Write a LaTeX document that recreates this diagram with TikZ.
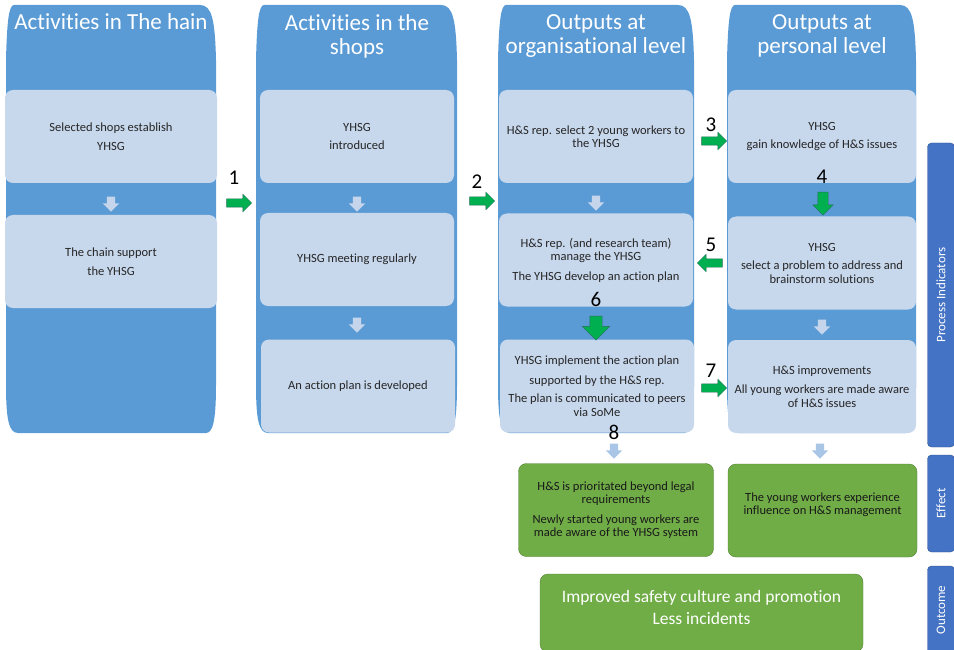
\documentclass[tikz,border=0pt]{standalone}
\usepackage{fontspec}
\setmainfont{Carlito}[Ligatures=NoCommon]
\usepackage{xcolor}
\usetikzlibrary{shapes.arrows}
\definecolor{laneblue}{RGB}{91,155,213}
\definecolor{cellblue}{RGB}{199,215,236}
\definecolor{stepblue}{RGB}{196,213,236}
\definecolor{dropblue}{RGB}{170,198,230}
\definecolor{arrowgreen}{RGB}{0,176,80}
\definecolor{arrowedge}{RGB}{38,110,90}
\definecolor{effgreen}{RGB}{112,173,71}
\definecolor{effedge}{RGB}{80,126,50}
\definecolor{sideblue}{RGB}{68,114,196}
\definecolor{sideedge}{RGB}{47,82,143}
\tikzset{
    lane-title/.style = {text=white, align=center, font=\fontsize{23}{24}\selectfont},
    cell-box/.style = {fill=cellblue, rounded corners=8pt, minimum height=93pt, align=center, text=black!85, font=\fontsize{12.5}{13.5}\selectfont},
    effect-box/.style = {fill=effgreen, draw=effedge, rounded corners=8pt, minimum height=93pt, align=center, text=black!90, font=\fontsize{12.5}{13.5}\selectfont},
    side-bar/.style = {fill=sideblue, draw=sideedge, rounded corners=4pt, minimum height=27pt, text=white, rotate=90, font=\fontsize{13}{15}\selectfont},
    step-down/.style = {single arrow, shape border rotate=270, fill=#1, draw=none, minimum height=15pt, inner sep=4pt, single arrow head extend=4pt, single arrow head indent=0pt},
    go-arrow/.style = {single arrow, shape border rotate=#1, fill=arrowgreen, draw=arrowedge, minimum height=25pt, inner sep=4pt, single arrow head extend=4.5pt, single arrow head indent=0pt},
    step-num/.style = {font=\fontsize{21}{21}\selectfont},
}

\begin{document}
\begin{tikzpicture}[x=1pt,y=-1pt]
\useasboundingbox (0,0) rectangle (954,650);

% the four lanes
\foreach \xa/\xb in {8/214, 258/455, 500/692, 729/914} {
    \fill[laneblue] ({\xa+6},5) -- ({\xb-14},5) .. controls ({\xb-2},5) and ({\xb+1},20) .. ({\xb+2},60)
        -- ({\xb+2},385) .. controls ({\xb+2},420) and ({\xb-1},433) .. ({\xb-8},433)
        -- ({\xa+10},433) .. controls ({\xa+1},433) and ({\xa-2},420) .. ({\xa-2},385)
        -- ({\xa-2},60) .. controls ({\xa-1},20) and ({\xa+1},5) .. ({\xa+6},5) -- cycle;
}

\node[lane-title] (chainT) at (111,22) {Activities in The hain};
\node[lane-title] (shopT) at (357,36) {Activities in the\\shops};
\node[lane-title] (orgT) at (596,36) {Outputs at\\organisational level};
\node[lane-title] (persT) at (822,36) {Outputs at\\personal level};

% boxes inside the lanes
\node[cell-box, minimum width=212pt] (chainA) at (111,136.5) {Selected shops establish\\[5pt]YHSG};
\node[cell-box, minimum width=212pt] (chainB) at (111,261.5) {The chain support\\[5pt]the YHSG};
\node[cell-box, minimum width=194pt] (shopA) at (357,136.5) {YHSG\\[5pt]introduced};
\node[cell-box, minimum width=194pt] (shopB) at (357,259.5) {YHSG meeting regularly};
\node[cell-box, minimum width=194pt] (shopC) at (358,386) {An action plan is developed};
\node[cell-box, minimum width=194pt] (orgA) at (596,136.5) {H\&S rep. select 2 young workers to\\the YHSG};
\node[cell-box, minimum width=194pt] (orgB) at (596,260) {H\&S rep. (and research team)\\manage the YHSG\\[6pt]The YHSG develop an action plan};
\node[cell-box, minimum width=194pt] (orgC) at (597,386) {YHSG implement the action plan\\[6pt]supported by the H\&S rep.\\[5pt]The plan is communicated to peers\\via SoMe};
\node[cell-box, minimum width=188pt] (persA) at (822,136.5) {YHSG\\[5pt]gain knowledge of H\&S issues};
\node[cell-box, minimum width=188pt] (persB) at (822,263) {YHSG\\[5pt]select a problem to address and\\brainstorm solutions};
\node[cell-box, minimum width=188pt] (persC) at (822,386.5) {H\&S improvements\\[6pt]All young workers are made aware\\of H\&S issues};

% pale steps
\node[step-down=stepblue] (dA) at (111,202) {};
\node[step-down=stepblue] (dB) at (357,202) {};
\node[step-down=stepblue] (dC) at (357,323) {};
\node[step-down=stepblue] (dD) at (596,201) {};
\node[step-down=stepblue] (dE) at (822,325) {};
\node[step-down=dropblue] (dF) at (614,449) {};
\node[step-down=dropblue] (dG) at (820,449) {};

% numbered green arrows
\node[go-arrow=0] (g1) at (237,203) {};
\node[step-num] (n1) at (234,178) {1};
\node[go-arrow=0] (g2) at (480,201) {};
\node[step-num] (n2) at (477,182) {2};
\node[go-arrow=0] (g3) at (712,141) {};
\node[step-num] (n3) at (711,125) {3};
\node[go-arrow=270, minimum height=23pt, inner sep=5pt, single arrow head extend=5pt] (g4) at (823,201) {};
\node[step-num] (n4) at (822,177) {4};
\node[go-arrow=180] (g5) at (712,263) {};
\node[step-num] (n5) at (711,245) {5};
\node[go-arrow=270, minimum height=24pt, inner sep=6pt, single arrow head extend=7.5pt] (g6) at (596,325) {};
\node[step-num] (n6) at (596,299) {6};
\node[go-arrow=0] (g7) at (712,388) {};
\node[step-num] (n7) at (711,371) {7};
\node[step-num] (n8) at (614,432) {8};

% effects and outcome
\node[effect-box, minimum width=195pt] (effOrg) at (616,510) {H\&S is prioritated beyond legal\\requirements\\[6pt]Newly started young workers are\\made aware of the YHSG system};
\node[effect-box, minimum width=189pt, text depth=14pt] (effPers) at (822.5,510.5) {The young workers experience\\influence on H\&S management};
\node[effect-box, minimum width=323pt, minimum height=78pt, text=white, font=\fontsize{17.5}{22}\selectfont, text depth=12pt] (outcome) at (701.5,613) {Improved safety culture and promotion\\Less incidents};

% side bars
\node[side-bar, minimum width=304pt] (procBar) at (941,295) {Process Indicators};
\node[side-bar, minimum width=97pt] (effBar) at (941,503.5) {Effect};
\node[side-bar, minimum width=88pt] (outBar) at (941,610) {Outcome};
\end{tikzpicture}
\end{document}
